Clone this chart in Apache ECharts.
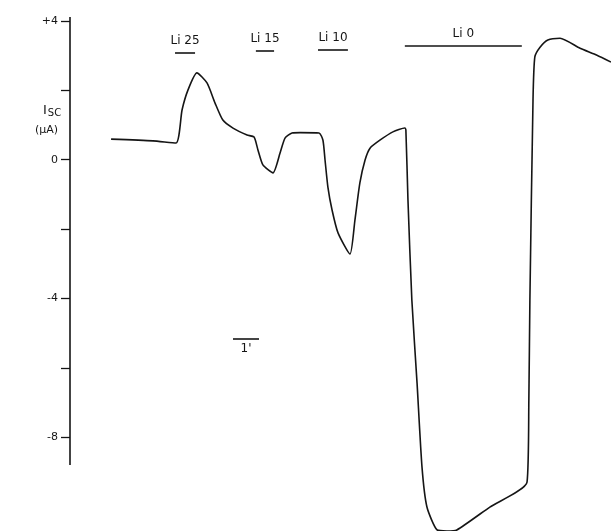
<!DOCTYPE html>
<html>
<head>
<meta charset="utf-8">
<script src="https://cdn.jsdelivr.net/npm/echarts@6/dist/echarts.min.js"></script>
<style>
  html, body { margin: 0; padding: 0; background: #fff; }
  #chart { width: 611px; height: 531px; }
</style>
</head>
<body>
<div id="chart"></div>
<script>
// time in minutes, short-circuit current in uA
var timeMin = [1.58, 3.19, 4.08, 4.31, 4.54, 4.88, 5.27, 5.58, 5.88, 6.27, 6.81, 7.08, 7.23, 7.42, 7.81,
  8.08, 8.27, 8.54, 8.85, 9.58, 9.73, 9.81, 9.92, 10.08, 10.31, 10.77, 10.96, 11.15, 11.35, 11.54,
  11.92, 12.42, 12.88, 12.92, 13.0, 13.15, 13.35, 13.54, 13.73, 14.12, 14.5, 14.88, 16.15, 17.58,
  17.65, 17.69, 17.81, 17.88, 18.08, 18.38, 18.85, 19.62, 20.27, 20.81];
var iscUA = [0.59, 0.54, 0.48, 1.43, 2.01, 2.50, 2.21, 1.63, 1.14, 0.91, 0.71, 0.65, 0.28, -0.15, -0.38,
  0.19, 0.62, 0.77, 0.78, 0.77, 0.56, -0.01, -0.79, -1.45, -2.11, -2.72, -1.74, -0.67, -0.01, 0.33,
  0.56, 0.80, 0.91, 0.85, -1.16, -4.05, -6.44, -8.86, -10.01, -10.67, -10.70, -10.67, -10.01, -9.29,
  -6.93, -4.05, 1.72, 2.96, 3.24, 3.45, 3.50, 3.21, 3.01, 2.81];

// Li+ bath changes: [label, start min, end min, level]
var stimulusBars = [
  ['Li 25', 4.04, 4.81, 3.08],
  ['Li 15', 7.15, 7.85, 3.13],
  ['Li 10', 9.54, 10.69, 3.16],
  ['Li 0', 12.88, 17.38, 3.27]
];
var timeBar = ["1'", 6.27, 7.27, -5.17];

var yTicks = [-8, -6, -4, -2, 0, 2, 4];
var yLabels = [-8, -4, 0, 4];
var ySpine = [-8.8, 4.11];

var ink = '#151515';

var marks = stimulusBars.map(function(b) {
  return [
    { name: b[0], coord: [b[1], b[3]] },
    { coord: [b[2], b[3]] }
  ];
});
marks.push([
  { name: timeBar[0], coord: [timeBar[1], timeBar[3]],
    label: { position: 'insideMiddleBottom', distance: 4 } },
  { coord: [timeBar[2], timeBar[3]] }
]);
marks.push([
  { name: '', coord: [0, ySpine[0]], label: { show: false } },
  { coord: [0, ySpine[1]] }
]);

var chart = echarts.init(document.getElementById('chart'), null, { renderer: 'canvas' });
chart.setOption({
  animation: false,
  backgroundColor: '#fff',
  grid: { left: 70, right: 0, top: 0, bottom: 0 },
  xAxis: {
    type: 'value',
    min: 0,
    max: 20.81,
    show: false
  },
  yAxis: {
    type: 'value',
    min: -10.7,
    max: 4.6,
    axisLine: { show: false },
    splitLine: { show: false },
    axisTick: {
      show: true,
      customValues: yTicks,
      length: 9,
      lineStyle: { color: ink, width: 1.3 }
    },
    axisLabel: {
      customValues: yLabels,
      margin: 12,
      color: ink,
      fontFamily: 'DejaVu Sans',
      fontSize: 11,
      formatter: function(v) { return v > 0 ? '+' + v : String(v); }
    }
  },
  graphic: [
    {
      type: 'text', left: 43, top: 104,
      style: {
        text: 'I{s|SC}',
        fill: ink,
        font: '13px DejaVu Sans',
        rich: { s: { fontSize: 10, fontFamily: 'DejaVu Sans', fill: ink, padding: [5, 0, 0, 1] } }
      }
    },
    {
      type: 'text', left: 35, top: 125,
      style: { text: '(\u03bcA)', fill: ink, font: '11px DejaVu Sans' }
    }
  ],
  series: [{
    type: 'line',
    data: timeMin.map(function(t, i) { return [t, iscUA[i]]; }),
    showSymbol: false,
    smooth: 0.2,
    lineStyle: { color: ink, width: 1.6 },
    markLine: {
      silent: true,
      symbol: ['none', 'none'],
      lineStyle: { color: ink, width: 1.6, type: 'solid' },
      label: {
        show: true,
        position: 'insideMiddleTop',
        distance: 6,
        formatter: '{b}',
        color: ink,
        fontFamily: 'DejaVu Sans',
        fontSize: 12
      },
      data: marks
    }
  }]
});
window.addEventListener('resize', function() { chart.resize(); });
</script>
</body>
</html>
